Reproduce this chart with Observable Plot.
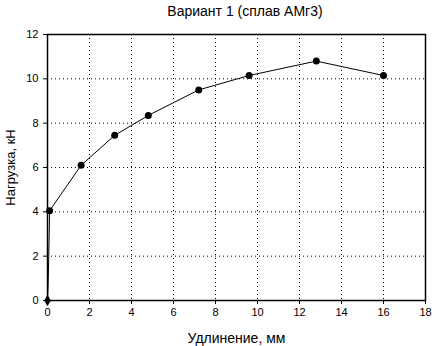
<!DOCTYPE html>
<html><head><meta charset="utf-8">
<script src="https://cdn.jsdelivr.net/npm/d3@7"></script>
<script src="https://cdn.jsdelivr.net/npm/@observablehq/plot@0.6"></script>
<style>
body{margin:0;background:#fff;font-family:Arial,"Liberation Sans",sans-serif}
#wrap{position:relative;width:447px;height:346px}
#title{position:absolute;top:3px;left:0;width:490px;text-align:center;font-size:14px;color:#000}
#chart{position:absolute;top:0;left:0}
</style></head>
<body>
<div id="wrap"><div id="chart"></div><div id="title">Вариант 1 (сплав АМг3)</div></div>
<script>
const title = "Вариант 1 (сплав АМг3)";
const xLabel = "Удлинение, мм";
const yLabel = "Нагрузка, кН";
// Elongation, mm and load, kN (curve)
const elongation = [0, 0.03, 0.06, 0.1, 1.6, 3.2, 4.8, 7.2, 9.6, 12.8, 16];
const load = [0, 0.7, 2.0, 4.05, 6.1, 7.45, 8.35, 9.5, 10.15, 10.8, 10.15];
// which curve points carry a marker
const marked = [false, false, false, true, true, true, true, true, true, true, true];
const xTicks = [0, 2, 4, 6, 8, 10, 12, 14, 16, 18];
const yTicks = [0, 2, 4, 6, 8, 10, 12];

const data = elongation.map((x, i) => ({x, y: load[i], m: marked[i]}));

const chart = Plot.plot({
  width: 447, height: 346,
  marginLeft: 47, marginRight: 22, marginTop: 34, marginBottom: 46,
  style: {fontFamily: "Arial, 'Liberation Sans', sans-serif", fontSize: "11px", color: "#000", background: "#fff"},
  x: {domain: [0, 18]},
  y: {domain: [0, 12]},
  marks: [
    Plot.gridX(xTicks, {stroke: "#000", strokeOpacity: 1, strokeDasharray: "1,3"}),
    Plot.gridY(yTicks, {stroke: "#000", strokeOpacity: 1, strokeDasharray: "1,3"}),
    Plot.frame({stroke: "#000", strokeWidth: 1.5}),
    Plot.axisX(xTicks, {tickSize: 4, tickPadding: 4, fontSize: 11, label: xLabel, labelAnchor: "center", labelArrow: "none", labelOffset: 42}),
    Plot.axisY(yTicks, {tickSize: 4, tickPadding: 5, fontSize: 11, label: yLabel, labelAnchor: "center", labelArrow: "none", labelOffset: 42}),
    Plot.line(data, {x: "x", y: "y", stroke: "#000", strokeWidth: 1}),
    Plot.dot(data.filter(d => d.m), {x: "x", y: "y", r: 3.5, fill: "#000", stroke: "none"}),
    Plot.dot(data.slice(0, 1), {x: "x", y: "y", r: 3.5, symbol: "diamond", fill: "#000", stroke: "none"})
  ]
});
chart.querySelectorAll('g[aria-label="x-axis label"] text').forEach(t => t.style.fontSize = "14px");
chart.querySelectorAll('g[aria-label="y-axis label"] text').forEach(t => t.style.fontSize = "13px");
document.getElementById("chart").appendChild(chart);
</script>
</body></html>
